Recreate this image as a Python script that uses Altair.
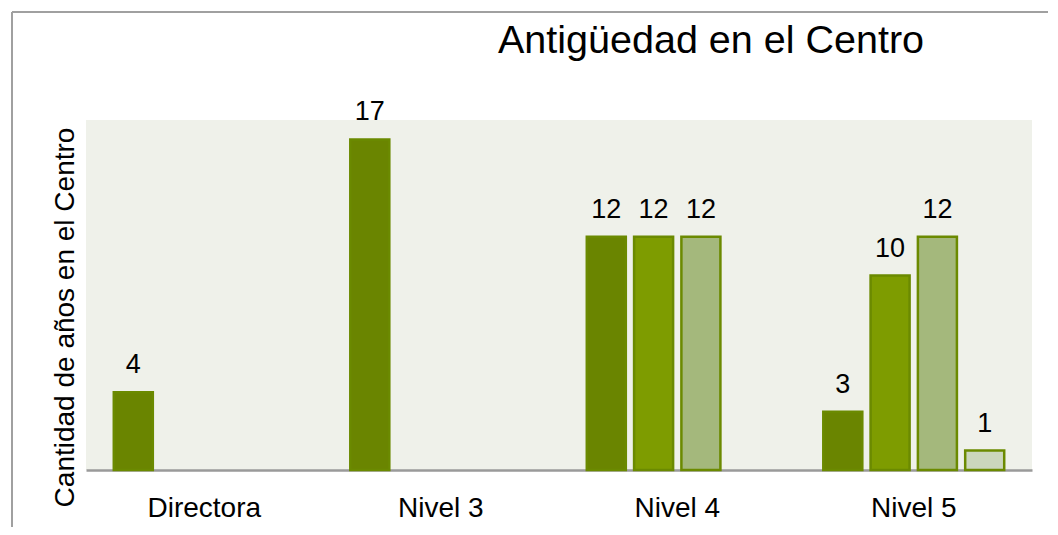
import altair as alt
import pandas as pd

categorias = ["Directora", "Nivel 3", "Nivel 4", "Nivel 5"]
series = ["Serie 1", "Serie 2", "Serie 3", "Serie 4"]
serie1 = [4, 17, 12, 3]
serie2 = [None, None, 12, 10]
serie3 = [None, None, 12, 12]
serie4 = [None, None, None, 1]
colores = ["#6a8500", "#7e9c00", "#a4b87c", "#cbd6bc"]

rows = []
for i, c in enumerate(categorias):
    for s, vals in zip(series, [serie1, serie2, serie3, serie4]):
        if vals[i] is not None:
            rows.append({"categoria": c, "serie": s, "valor": vals[i]})
df = pd.DataFrame(rows)

FONT = "Liberation Sans"

x = alt.X("categoria:N", sort=categorias,
          scale=alt.Scale(domain=categorias, paddingInner=0, paddingOuter=0),
          axis=alt.Axis(title=None, labelAngle=0, labelFontSize=28, labelFont=FONT,
                        labelColor="#000000", ticks=False, labelPadding=24,
                        domainColor="#9a9a9a", domainWidth=2.5))
xo = alt.XOffset("serie:N", scale=alt.Scale(domain=series, paddingInner=0.175, paddingOuter=0.5875))
y = alt.Y("valor:Q", scale=alt.Scale(domain=[0, 18], nice=False),
          axis=alt.Axis(title="Cantidad de años en el Centro", labels=False, ticks=False,
                        domain=False, grid=False, titleFont=FONT, titleFontSize=28,
                        titleFontWeight="normal", titleColor="#000000",
                        titleX=-21, titleY=197, titleAngle=-90, titleAlign="center",
                        titleBaseline="middle"))

bars = alt.Chart(df).mark_bar(stroke="#6b8a00", strokeWidth=2.5).encode(
    x=x, xOffset=xo, y=y,
    color=alt.Color("serie:N", scale=alt.Scale(domain=series, range=colores), legend=None),
)
labels = alt.Chart(df).mark_text(font=FONT, fontSize=27, color="#000000",
                                 baseline="alphabetic", dy=-19).encode(
    x=x, xOffset=xo, y=y, text=alt.Text("valor:Q"),
)

border_top = alt.Chart(df).mark_rule(color="#a0a0a0", strokeWidth=2).encode(
    x=alt.value(-74), x2=alt.value(970), y=alt.value(-108))
border_left = alt.Chart(df).mark_rule(color="#a0a0a0", strokeWidth=2).encode(
    x=alt.value(-74), y=alt.value(-108), y2=alt.value(430))

chart = alt.layer(bars, labels, border_top, border_left).properties(
    width=946, height=350,
    autosize=alt.AutoSizeParams(type="none"),
    padding={"left": 78, "top": 112, "right": 16, "bottom": 57},
    background="#ffffff",
    title=alt.TitleParams("Antigüedad en el Centro", font=FONT, fontSize=39.5,
                          fontWeight="normal", color="#000000", anchor="start",
                          frame="group", dx=412, offset=0, dy=81, baseline="alphabetic"),
).configure_view(fill="#eff1ea", stroke=None)

chart.save("out.html", embed_options={"renderer": "svg", "actions": False})
